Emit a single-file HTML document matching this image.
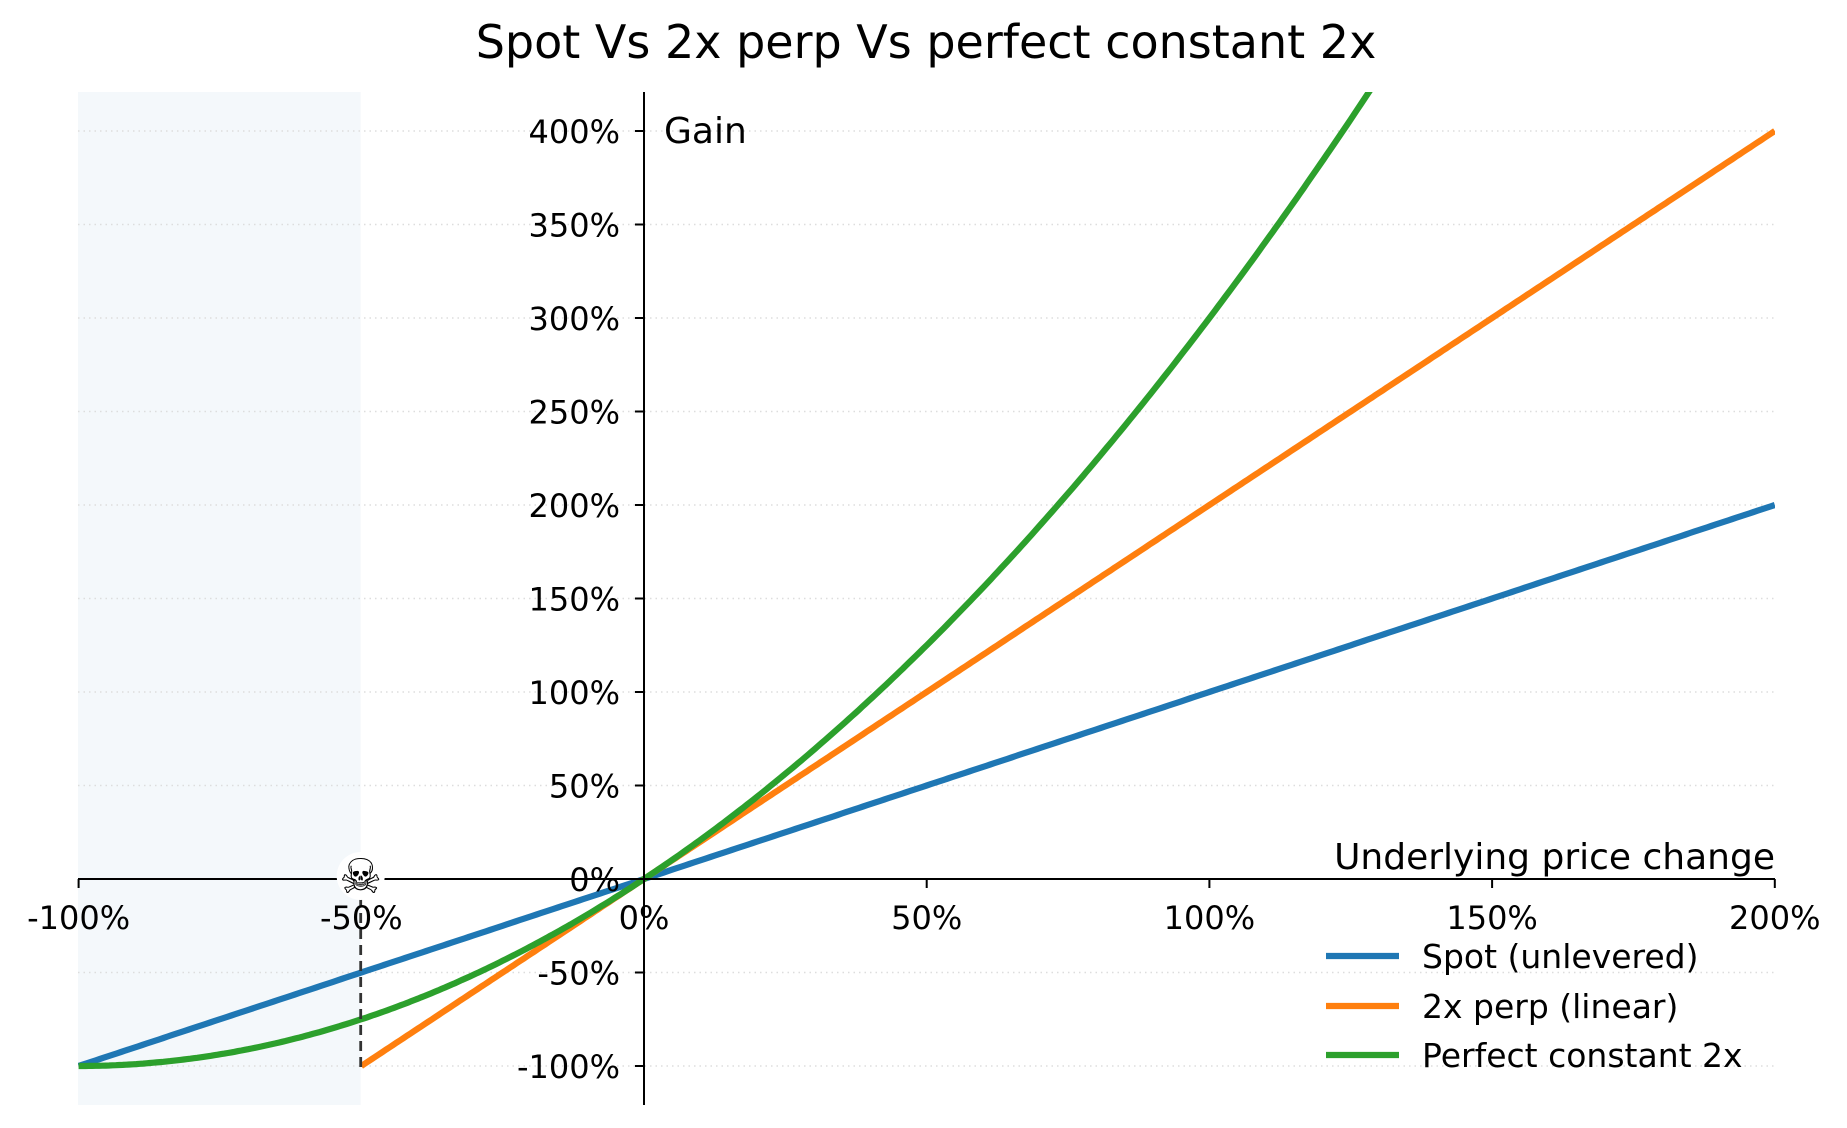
<!DOCTYPE html>
<html><head><meta charset="utf-8"><style>
html,body{margin:0;padding:0;background:#fff}
svg{display:block;font-family:"DejaVu Sans","Liberation Sans",sans-serif}
</style></head><body>
<svg id="s" width="1847" height="1128" viewBox="0 0 1847 1128" xmlns="http://www.w3.org/2000/svg">
<defs><clipPath id="c"><rect x="78" y="92" width="1697" height="1013"/></clipPath></defs>
<rect x="78" y="92" width="282.7" height="1013" fill="#f4f8fb"/>
<g id="grid" stroke="#dddddd" stroke-width="1.4" stroke-dasharray="1.5,4"></g>
<g id="lines" clip-path="url(#c)" fill="none" stroke-width="6.2"></g>
<line x1="360.7" y1="1067" x2="360.7" y2="892" stroke="#333" stroke-width="2.8" stroke-dasharray="10,6"/>
<line x1="78" y1="879" x2="1775" y2="879" stroke="#000" stroke-width="2"/>
<line x1="644" y1="92" x2="644" y2="1105" stroke="#000" stroke-width="2"/>
<g id="ticks" stroke="#000" stroke-width="2"></g>
<g id="labels" font-size="32" fill="#000"></g>
<circle cx="360.7" cy="876" r="24" fill="#fff"/>
<text x="360.7" y="893" font-size="48" text-anchor="middle" fill="#000">☠</text>
<text x="926" y="58" font-size="46" text-anchor="middle">Spot Vs 2x perp Vs perfect constant 2x</text>
<text x="664" y="143" font-size="36">Gain</text>
<text x="1775" y="869" font-size="36" text-anchor="end">Underlying price change</text>
<g stroke-width="6.2">
<line x1="1326" y1="956" x2="1399" y2="956" stroke="#1f77b4"/>
<line x1="1326" y1="1006" x2="1399" y2="1006" stroke="#ff7f0e"/>
<line x1="1326" y1="1055" x2="1399" y2="1055" stroke="#2ca02c"/>
</g>
<g font-size="33">
<text x="1422" y="968">Spot (unlevered)</text>
<text x="1422" y="1018">2x perp (linear)</text>
<text x="1422" y="1067">Perfect constant 2x</text>
</g>
</svg>
<script>
const NS="http://www.w3.org/2000/svg";
const X=v=>644+v*565.4, Y=v=>879-v*187;
function el(p,t,a,txt){const e=document.createElementNS(NS,t);for(const k in a)e.setAttribute(k,a[k]);if(txt!==undefined)e.textContent=txt;document.getElementById(p).appendChild(e);return e;}
for(let v=-100;v<=400;v+=50){if(v===0)continue;const y=Y(v/100);el("grid","line",{x1:78,x2:1775,y1:y,y2:y});}
for(let v=-100;v<=400;v+=50){const y=Y(v/100);el("ticks","line",{x1:635,x2:644,y1:y,y2:y});el("labels","text",{x:620,y:y+12,"text-anchor":"end"},v+"%");}
for(let v=-100;v<=200;v+=50){const x=X(v/100);el("ticks","line",{x1:x,x2:x,y1:879,y2:888});el("labels","text",{x:x,y:929,"text-anchor":"middle"},v+"%");}
function path(f,a,b,c){let d="";for(let i=0;i<=400;i++){const x=a+(b-a)*i/400;d+=(i?"L":"M")+X(x).toFixed(1)+","+Y(f(x)).toFixed(1);}el("lines","path",{d:d,stroke:c});}
path(x=>x,-1,2,"#1f77b4");
path(x=>2*x,-0.5,2,"#ff7f0e");
path(x=>(1+x)*(1+x)-1,-1,1.4,"#2ca02c");
</script>
</body></html>
